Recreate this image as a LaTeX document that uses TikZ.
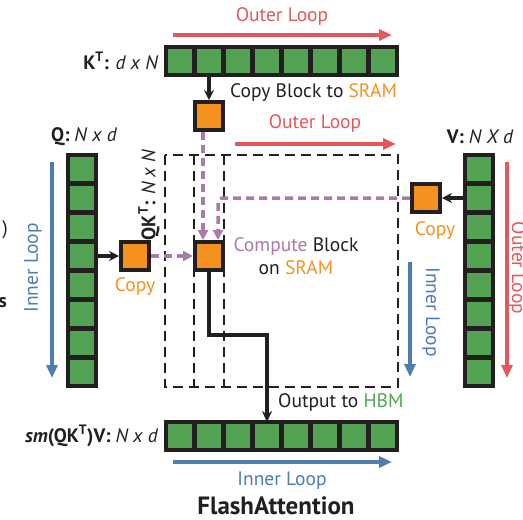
\documentclass[tikz,border=0pt]{standalone}
\usepackage{fontspec}
\setmainfont{PT Sans}
\usepackage{xcolor}
\definecolor{cInk}{HTML}{231F20}
\definecolor{cGreen}{HTML}{54A354}
\definecolor{cOrange}{HTML}{F3921F}
\definecolor{cRed}{HTML}{E2595C}
\definecolor{cBlue}{HTML}{4E7DB0}
\definecolor{cPurple}{HTML}{A97BAA}
\usepackage{tikz}
\usetikzlibrary{positioning,arrows.meta,calc}
\tikzset{
  node-cell/.style={draw=cInk,line width=4pt,fill=cGreen,
    minimum size=28pt,inner sep=0pt,outer sep=0pt},
  node-block/.style={draw=cInk,line width=4pt,fill=cOrange,
    minimum size=28pt,inner sep=0pt,outer sep=2pt},
  node-label/.style={font=\fontsize{19.5}{22}\selectfont,text=cInk,inner sep=1pt},
  arrow-loop/.style={-{Triangle[length=13pt,width=11pt]},line width=4pt},
  arrow-copy/.style={-{Stealth[length=10pt,width=10pt]},line width=3.5pt,draw=cInk},
  arrow-sram/.style={-{Triangle[length=10pt,width=10pt]},line width=3.5pt,
    draw=cPurple,dash pattern=on 8pt off 5pt},
  arrow-out/.style={-{Stealth[length=11pt,width=10pt]},line width=3.5pt,draw=cInk},
  tile-frame/.style={draw=cInk,line width=2.4pt,dash pattern=on 10pt off 6pt},
}

\begin{document}
\begin{tikzpicture}[x=1pt,y=-1pt]
  \useasboundingbox (0,0) rectangle (523,520);

  % tiles of QK^T
  \draw[tile-frame] (165,155) rectangle (398,387);
  \draw[tile-frame] (194,155) -- (194,387);
  \draw[tile-frame] (224,155) -- (224,387);

  % matrices in HBM
  \foreach \i in {1,...,8} {
    \node[node-cell] (k\i) at ({151+29*\i},61) {};
    \node[node-cell] (q\i) at (82,{140+29*\i}) {};
    \node[node-cell] (v\i) at (479,{140+29*\i}) {};
    \node[node-cell] (o\i) at ({151+29*\i},436) {};
  }

  % blocks in SRAM
  \node[node-block] (kcopy) at (209,116) {};
  \node[node-block] (qcopy) at (135,256) {};
  \node[node-block] (vcopy) at (426,198) {};
  \node[node-block] (compute) at (209,256) {};

  % loops
  \coordinate (outerK-a) at (173,35);  \coordinate (outerK-b) at (392,35);
  \coordinate (outerV-a) at (235,144); \coordinate (outerV-b) at (396,144);
  \coordinate (outerR-a) at (507,162); \coordinate (outerR-b) at (507,378);
  \coordinate (innerQ-a) at (52,162);  \coordinate (innerQ-b) at (52,378);
  \coordinate (innerM-a) at (410,262); \coordinate (innerM-b) at (410,377);
  \coordinate (innerO-a) at (173,462); \coordinate (innerO-b) at (392,462);
  \draw[arrow-loop,draw=cRed] (outerK-a) -- (outerK-b);
  \draw[arrow-loop,draw=cRed] (outerV-a) -- (outerV-b);
  \draw[arrow-loop,draw=cRed] (outerR-a) -- (outerR-b);
  \draw[arrow-loop,draw=cBlue] (innerQ-a) -- (innerQ-b);
  \draw[arrow-loop,draw=cBlue] (innerM-a) -- (innerM-b);
  \draw[arrow-loop,draw=cBlue] (innerO-a) -- (innerO-b);

  % copies
  \draw[arrow-copy] (k2.south) -- (kcopy.north);
  \draw[arrow-copy] (q4.east) -- (qcopy.west);
  \draw[arrow-copy] (v2.west) -- (vcopy.east);

  \draw[arrow-sram] ([xshift=-6pt]kcopy.south) -- ([xshift=-6pt]compute.north);
  \draw[arrow-sram,rounded corners=4pt] (vcopy.west) -| ([xshift=9pt]compute.north);
  \draw[arrow-sram] (qcopy.east) -- (compute.west);

  \draw[arrow-out] (compute.south) |- (267,335) -- (o4.north);

  % labels
  \node[node-label,text=cRed] (lOuterK) at (282,17) {Outer Loop};
  \node[node-label,text=cRed] (lOuterV) at (315,124) {Outer Loop};
  \node[node-label,text=cRed,rotate=-90] (lOuterR) at (517,268) {Outer Loop};
  \node[node-label,text=cBlue,rotate=90] (lInnerQ) at (33,268) {Inner Loop};
  \node[node-label,text=cBlue,rotate=-90] (lInnerM) at (431,312) {Inner Loop};
  \node[node-label,text=cBlue] (lInnerO) at (282,481) {Inner Loop};

  \node[node-label,anchor=east] (lK) at (159,61)
    {\bfseries K\textsuperscript{T}: \mdseries\itshape d x N};
  \node[node-label] (lQ) at (84,137) {\bfseries Q: \mdseries\itshape N x d};
  \node[node-label] (lV) at (480,137) {\bfseries V: \mdseries\itshape N X d};
  \node[node-label,rotate=90] (lS) at (149,195)
    {\bfseries QK\textsuperscript{T}: \mdseries\itshape N x N};
  \node[node-label,anchor=east] (lO) at (159,436)
    {\bfseries\itshape sm\upshape(QK\textsuperscript{T})V: \mdseries\itshape N x d};

  \node[node-label,anchor=west] (lCopyK) at (229,93)
    {Copy Block to \textcolor{cOrange}{SRAM}};
  \node[node-label,text=cOrange] (lCopyQ) at (135,287) {Copy};
  \node[node-label,text=cOrange] (lCopyV) at (435,231) {Copy};
  \node[node-label,align=center,font=\fontsize{19.5}{23}\selectfont] (lCompute) at (296,256)
    {\textcolor{cPurple}{Compute} Block\\on \textcolor{cOrange}{SRAM}};
  \node[node-label,anchor=west] (lOut) at (277,403)
    {Output to \textcolor{cGreen}{HBM}};

  \node[node-label,font=\fontsize{25}{27}\selectfont\bfseries] (title) at (276,506)
    {FlashAttention};

  % cut-off text at left edge
  \node[node-label,anchor=east] (cutA) at (9,230) {)};
  \node[node-label,anchor=east,font=\fontsize{19.5}{22}\selectfont\bfseries] (cutB) at (8,303) {s};
\end{tikzpicture}
\end{document}
